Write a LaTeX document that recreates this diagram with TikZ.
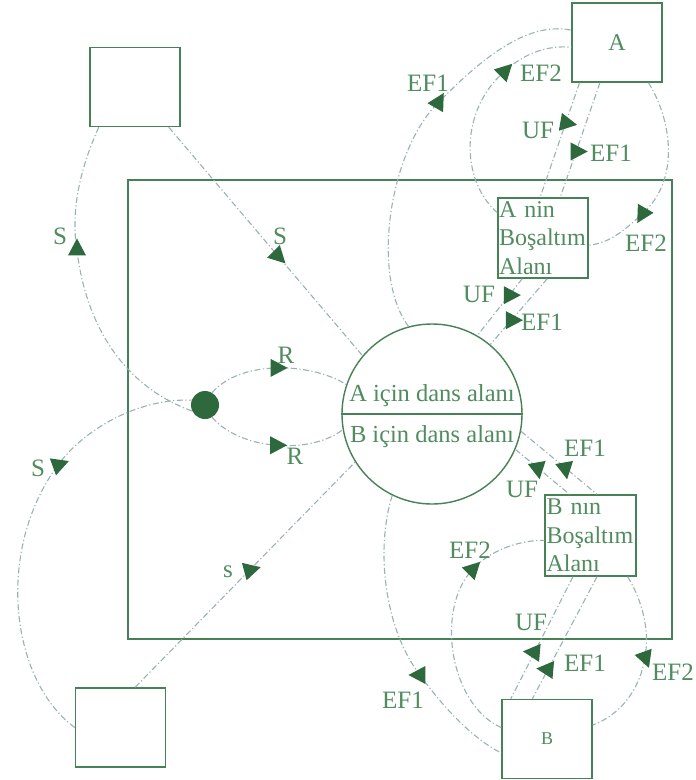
\documentclass[tikz,border=0pt]{standalone}
\usepackage{fontspec}
\setmainfont{Liberation Serif}
\usetikzlibrary{positioning, shapes.geometric}
\definecolor{boxgreen}{RGB}{70,130,85}
\definecolor{txtgreen}{RGB}{80,140,95}
\definecolor{arrgreen}{RGB}{45,105,60}
\definecolor{linegray}{RGB}{155,178,180}

\begin{document}
\begin{tikzpicture}[x=1pt, y=-1pt,
    box/.style={rectangle, draw=boxgreen, line width=1.4pt, minimum width=90pt, minimum height=79pt, inner sep=1pt, text=txtgreen},
    area/.style={box, minimum height=80pt, inner sep=0.5pt, text width=88pt, align=left, font=\fontsize{24}{28.5}\selectfont},
    flow/.style={draw=linegray, line width=1.1pt, dash pattern=on 6pt off 2.5pt on 1.2pt off 2.5pt},
    arrowhd/.style={isosceles triangle, isosceles triangle apex angle=60, isosceles triangle stretches, fill=arrgreen, inner sep=0pt, minimum width=18pt, minimum height=17pt},
    lbl/.style={text=txtgreen, inner sep=0pt, font=\fontsize{25}{28}\selectfont}
  ]
  \fill[white] (0,0) rectangle (696,780);
  \useasboundingbox (0,0) rectangle (696,780);

  % frame
  \draw[boxgreen, line width=1.5pt] (128,180) rectangle (672,639);

  % boxes
  \node[box]                         (tlbox) at (135,87)    {};
  \node[box]                         (blbox) at (120.5,727.5) {};
  \node[box, font=\fontsize{24}{28}\selectfont] (boxA) at (617,42.5) {A};
  \node[box, font=\fontsize{18}{22}\selectfont] (boxB) at (547,739)  {B};
  \node[area]                        (emptyA) at (543,238)  {A nin\\Boşaltım\\Alanı};
  \node[area, minimum width=91pt, minimum height=81pt] (emptyB) at (590.5,535.5) {B nın\\Boşaltım\\Alanı};

  % dance circle
  \node[circle, draw=boxgreen, line width=1.4pt, minimum size=180pt, inner sep=0pt] (dance) at (432,414) {};
  \draw[boxgreen, line width=1.4pt] (dance.west) -- (dance.east);
  \node[lbl, font=\fontsize{24.5}{28}\selectfont] (danceA) at (432,396) {A için dans alanı};
  \node[lbl, font=\fontsize{24.5}{28}\selectfont] (danceB) at (432,437) {B için dans alanı};

  \node[circle, fill=arrgreen, minimum size=28pt, inner sep=0pt] (dot) at (205,405) {};

  % S and R flows
  \draw[flow] (tlbox.228) .. controls (75,180) and (72,220) .. (77,250) node[arrowhd, rotate=90] (hS1) {}
              .. controls (85,320) and (120,385) .. (dot.205);
  \draw[flow] (tlbox.-50) -- node[arrowhd, pos=0.56, rotate=-45] (hS2) {} (dance.140);
  \draw[flow] (dot.60) .. controls (240,360) and (310,362) .. node[arrowhd, pos=0.5, rotate=0] (hR1) {} (dance.161);
  \draw[flow] (dot.-60) .. controls (240,450) and (310,455) .. node[arrowhd, pos=0.5, rotate=0] (hR2) {} (dance.190);
  \draw[flow] (blbox.west) .. controls (10,680) and (-5,550) .. (58,465) node[arrowhd, rotate=20] (hS3) {}
              .. controls (85,428) and (140,398) .. (dot.160);
  \draw[flow] (blbox.70) -- node[arrowhd, pos=0.52, rotate=15] (hS4) {} (dance.212);

  \node[lbl] (lS1) at (60,236)  {S};
  \node[lbl] (lS2) at (280,236) {S};
  \node[lbl] (lR1) at (286,355) {R};
  \node[lbl] (lR2) at (295,456) {R};
  \node[lbl] (lS3) at (38,468)  {S};
  \node[lbl] (lS4) at (228,572) {s};

  % A side
  \draw[flow] (dance.105) .. controls (370,275) and (390,150) .. (438,103) node[arrowhd, rotate=60] (hA1) {}
              .. controls (475,65) and (525,20) .. (boxA.165);
  \draw[flow] (emptyA.151) .. controls (460,180) and (460,110) .. (504,72) node[arrowhd, rotate=45] (hA2) {}
              .. controls (525,52) and (550,45) .. (boxA.186);
  \draw[flow] (boxA.227) -- node[arrowhd, pos=0.35, rotate=-10] (hA3) {} (emptyA.94);
  \draw[flow] (boxA.247) -- node[arrowhd, pos=0.6, rotate=0] (hA4) {} (emptyA.67);
  \draw[flow] (boxA.-52) .. controls (672,120) and (680,180) .. (643,213) node[arrowhd, rotate=-120] (hA5) {}
              .. controls (625,230) and (610,243) .. (emptyA.-9);
  \draw[flow] (emptyA.243) -- node[arrowhd, pos=0.29, rotate=0] (hA6) {} (dance.60);
  \draw[flow] (emptyA.276) -- node[arrowhd, pos=0.63, rotate=0] (hA7) {} (dance.50);

  \node[lbl] (lA1) at (428,83)  {EF1};
  \node[lbl] (lA2) at (541,73)  {EF2};
  \node[lbl] (lA3) at (538,130) {UF};
  \node[lbl] (lA4) at (611,153) {EF1};
  \node[lbl] (lA5) at (646,243) {EF2};
  \node[lbl] (lA6) at (479,294) {UF};
  \node[lbl] (lA7) at (542,322) {EF1};

  % B side
  \draw[flow] (dance.-23) -- node[arrowhd, pos=0.41, rotate=-80] (hB1) {} (emptyB.117);
  \draw[flow] (dance.-11) -- node[arrowhd, pos=0.58, rotate=-80] (hB2) {} (emptyB.81);
  \draw[flow] (boxB.166) .. controls (450,705) and (435,610) .. (472,570) node[arrowhd, rotate=45] (hB3) {}
              .. controls (490,550) and (520,540) .. (emptyB.186);
  \draw[flow] (emptyB.247) -- node[arrowhd, pos=0.62, rotate=175] (hB4) {} (boxB.132);
  \draw[flow] (emptyB.279) -- node[arrowhd, pos=0.76, rotate=175] (hB5) {} (boxB.110);
  \draw[flow] (emptyB.-48) .. controls (642,600) and (650,630) .. (645,657) node[arrowhd, rotate=-70] (hB6) {}
              .. controls (640,690) and (620,715) .. (boxB.17);
  \draw[flow] (dance.244) .. controls (375,550) and (385,630) .. (420,675) node[arrowhd, rotate=180] (hB7) {}
              .. controls (445,710) and (475,740) .. (boxB.197);

  \node[lbl] (lB1) at (585,448) {EF1};
  \node[lbl] (lB2) at (522,489) {UF};
  \node[lbl] (lB3) at (470,550) {EF2};
  \node[lbl] (lB4) at (531,622) {UF};
  \node[lbl] (lB5) at (585,663) {EF1};
  \node[lbl] (lB6) at (673,672) {EF2};
  \node[lbl] (lB7) at (403,700) {EF1};
\end{tikzpicture}
\end{document}
